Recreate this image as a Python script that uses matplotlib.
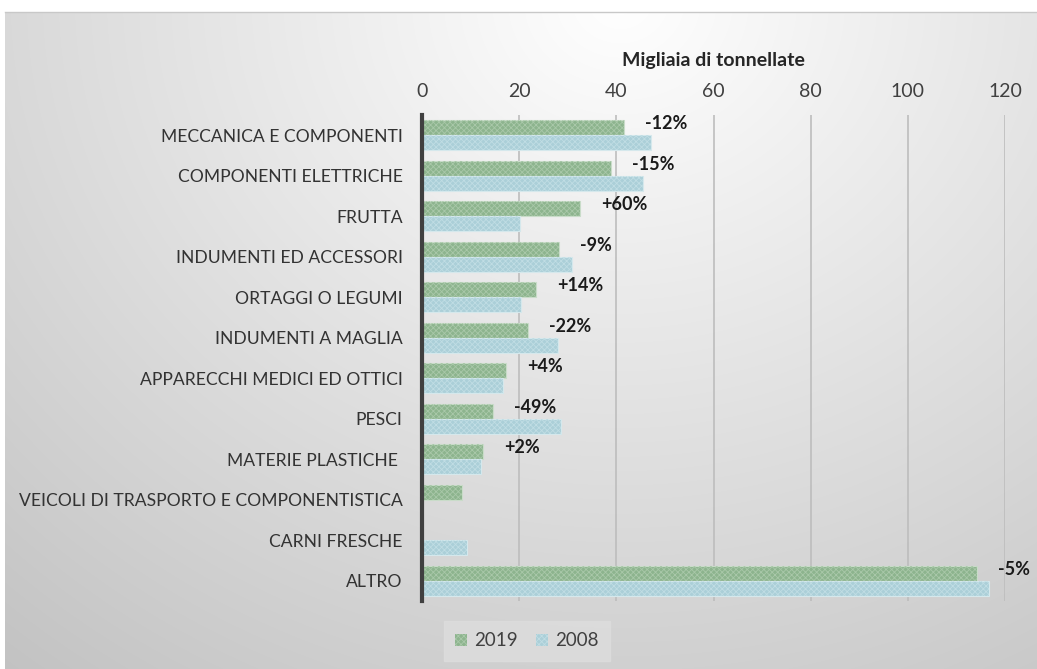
import matplotlib
matplotlib.use("Agg")
import matplotlib.pyplot as plt
import numpy as np
from matplotlib.patches import Patch

categories = ["MECCANICA E COMPONENTI", "COMPONENTI ELETTRICHE", "FRUTTA",
              "INDUMENTI ED ACCESSORI", "ORTAGGI O LEGUMI", "INDUMENTI A MAGLIA",
              "APPARECCHI MEDICI ED OTTICI", "PESCI", "MATERIE PLASTICHE ",
              "VEICOLI DI TRASPORTO E COMPONENTISTICA", "CARNI FRESCHE", "ALTRO"]
v2019 = [41.6, 38.9, 32.5, 28.2, 23.5, 21.8, 17.3, 14.6, 12.6, 8.2, 0, 114.2]
v2008 = [47.1, 45.5, 20.2, 30.9, 20.4, 28.0, 16.6, 28.6, 12.2, 0, 9.3, 116.8]
changes = ["-12%", "-15%", "+60%", "-9%", "+14%", "-22%", "+4%", "-49%", "+2%", "", "", "-5%"]
xticks = [0, 20, 40, 60, 80, 100, 120]

plt.rcParams['font.family'] = ['Lato', 'DejaVu Sans']
plt.rcParams['hatch.linewidth'] = 0.6

W, H = 1037, 669
fig = plt.figure(figsize=(W/100, H/100), dpi=100)

# background gradient
bg = fig.add_axes([0, 0, 1, 1])
bg.set_axis_off()
yy, xx = np.mgrid[0:H, 0:W]
d = np.sqrt(((xx - 620) / 900.0) ** 2 + ((yy - 0) / 800.0) ** 2)
val = 1.0 - 0.22 * np.clip(d, 0, 1.3)
img = np.dstack([val, val, val])
img[:12, :, :] = 1.0
img[:, :5, :] = 1.0
bg.imshow(img, extent=[0, W, H, 0], aspect='auto')
bg.plot([5, W], [12, 12], color='#C8C8C8', lw=1)
bg.set_xlim(0, W); bg.set_ylim(H, 0)

left, right, top, bottom = 422, 1005, 115, 601
ax = fig.add_axes([left / W, 1 - bottom / H, (right - left) / W, (bottom - top) / H])
ax.patch.set_alpha(0)

n = len(categories)
y = np.arange(n)
h = 0.37
c19, c08 = '#8DB48E', '#ABCFD8'
ax.barh(y - h / 2, v2019, height=h, color=c19, edgecolor='#C9DCC9', lw=0.8, zorder=3)
ax.barh(y - h / 2, v2019, height=h, color='none', edgecolor='#A9C8A9', hatch='xxxxxx', lw=0, zorder=4)
ax.barh(y + h / 2, v2008, height=h, color=c08, edgecolor='#D5E8EC', lw=0.8, zorder=3)
ax.barh(y + h / 2, v2008, height=h, color='none', edgecolor='#C0DDE4', hatch='xxxxxx', lw=0, zorder=4)

for i, (a, lab) in enumerate(zip(v2019, changes)):
    if lab:
        ax.annotate(lab, xy=(a, i - h / 2), xytext=(15, 3), textcoords='offset points',
                    ha='left', va='center', fontsize=13, fontweight='bold', color='#1a1a1a',
                    zorder=5)

ax.set_xlim(0, 120)
ax.set_ylim(n - 0.5, -0.5)
ax.set_xticks(xticks)
ax.xaxis.tick_top()
ax.xaxis.set_label_position('top')
ax.tick_params(axis='x', length=0, pad=11, labelsize=14, labelcolor='#404040')
ax.set_xlabel("Migliaia di tonnellate", fontsize=14, fontweight='bold', color='#262626', labelpad=12)
ax.set_yticks(y)
ax.set_yticklabels(categories, fontsize=12.6, color='#333333')
ax.tick_params(axis='y', length=0, pad=14)
ax.grid(axis='x', color='#BDBDBD', lw=1.2, zorder=0)
for s in ['top', 'right', 'bottom']:
    ax.spines[s].set_visible(False)
ax.spines['left'].set_color('#404040')
ax.spines['left'].set_linewidth(3)
ax.spines['left'].set_zorder(6)

handles = [Patch(facecolor=c19, edgecolor='#A9C8A9', hatch='xxxxxx', lw=0),
           Patch(facecolor=c08, edgecolor='#C0DDE4', hatch='xxxxxx', lw=0)]
leg = fig.legend(handles, ['2019', '2008'], loc='center', bbox_to_anchor=(527 / W, 1 - 641 / H),
                 ncol=2, frameon=True, fontsize=13.5, handlelength=0.6, handleheight=0.6,
                 handletextpad=0.4, columnspacing=1.0, borderpad=0.6, fancybox=False)
leg.get_frame().set_facecolor('#DCDCDC')
leg.get_frame().set_edgecolor('#DCDCDC')
leg.get_frame().set_alpha(0.9)
for t in leg.get_texts():
    t.set_color('#404040')

fig.savefig('out.png', dpi=100)
